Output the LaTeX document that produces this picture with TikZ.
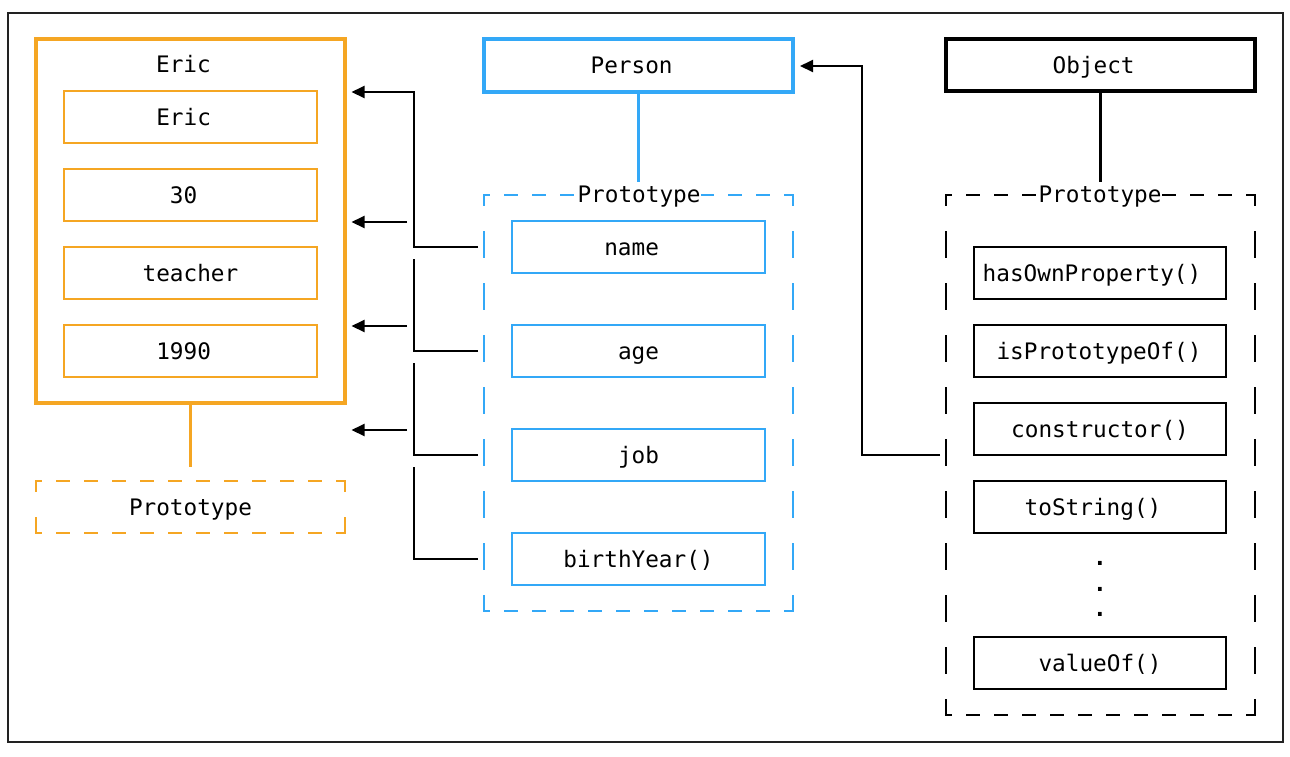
\documentclass[tikz,border=0pt]{standalone}
\usepackage{fontspec}
\setmonofont{DejaVu Sans Mono}
\usetikzlibrary{arrows.meta}
\definecolor{orng}{HTML}{F5A623}
\definecolor{blu}{HTML}{33A8F7}
\definecolor{frm}{HTML}{222222}
\newcommand\dashedframe[2]{%
  \draw[#2,hdsh] (#1.north west) -- (#1.north east);
  \draw[#2,hdsh] (#1.south west) -- (#1.south east);
  \draw[#2,vdsh] (#1.north west) -- (#1.south west);
  \draw[#2,vdsh] (#1.north east) -- (#1.south east);}
\begin{document}
\begin{tikzpicture}[x=1pt,y=-1pt,
  txt/.style={font=\fontsize{22.7}{26}\selectfont\ttfamily, text height=16.6pt, text depth=0pt, inner sep=0pt, outer sep=0pt},
  cell/.style={txt, rectangle, draw, minimum width=253pt, minimum height=52pt, line width=2pt},
  big/.style={txt, rectangle, draw, minimum width=309pt, line width=3.5pt},
  area/.style={txt, rectangle, minimum width=309pt},
  txs/.style={execute at begin node={\hspace*{#1}}},
  hdsh/.style={line width=2.5pt, line cap=rect, dash pattern=on 11pt off 17pt, dash phase=6.5pt},
  vdsh/.style={line width=2.5pt, line cap=rect, dash pattern=on 24.5pt off 27.5pt, dash phase=15pt},
  conn/.style={line width=2pt, draw=black},
  arr/.style={conn, -{Triangle[length=13pt,width=12pt]}}
]
\useasboundingbox (0,0) rectangle (1290,756);
\node[draw=frm, line width=2pt, minimum width=1275pt, minimum height=729pt, inner sep=0pt, outer sep=0pt] (frame) at (645.5,377.5) {};

% Eric
\node[big, draw=orng, minimum height=364pt] (eric) at (190.5,221) {};
\node[txt] (erict) at (183.5,64) {Eric};
\node[cell, draw=orng, txs=-13.7pt] (e1) at (190.5,117) {Eric};
\node[cell, draw=orng, txs=-14pt] (e2) at (190.5,195) {30};
\node[cell, draw=orng] (e3) at (190.5,273) {teacher};
\node[cell, draw=orng, txs=-13.7pt] (e4) at (190.5,351) {1990};
\node[area, minimum height=52pt] (eproto) at (190.5,507) {Prototype};
\dashedframe{eproto}{orng}
\draw[orng, line width=3.2pt] (eric.south) -- ([yshift=14pt]eproto.north);

% Person
\node[big, draw=blu, minimum height=53pt, txs=-13.7pt] (person) at (638.5,65.5) {Person};
\node[area, minimum height=416pt] (pproto) at (638.5,403) {};
\dashedframe{pproto}{blu}
\node[txt, fill=white] (pprotol) at (639,194) {Prototype};
\draw[blu, line width=3.2pt] (person.south) -- ([yshift=13pt]pproto.north);
\node[cell, draw=blu, txs=-13.7pt] (name) at (638.5,247) {name};
\node[cell, draw=blu] (age) at (638.5,351) {age};
\node[cell, draw=blu] (job) at (638.5,455) {job};
\node[cell, draw=blu] (birth) at (638.5,559) {birthYear()};

% Object
\node[big, draw=black, minimum height=52pt, txs=-13.7pt] (object) at (1100.5,65) {Object};
\node[area, minimum height=520pt] (oproto) at (1100.5,455) {};
\dashedframe{oproto}{black}
\node[txt, fill=white] (oprotol) at (1100,194) {Prototype};
\draw[black, line width=3.5pt] (object.south) -- ([yshift=13pt]oproto.north);
\node[cell, draw=black, minimum width=252pt, txs=-16pt] (hop) at (1100,273) {hasOwnProperty()};
\node[cell, draw=black, minimum width=252pt, txs=-2pt] (ipo) at (1100,351) {isPrototypeOf()};
\node[cell, draw=black, minimum width=252pt] (cons) at (1100,429) {constructor()};
\node[cell, draw=black, minimum width=252pt, txs=-14pt] (tos) at (1100,507) {toString()};
\node[txt, anchor=base, font=\fontsize{22.7}{26}\selectfont\ttfamily\bfseries] (d1) at (1100,565) {.};
\node[txt, anchor=base, font=\fontsize{22.7}{26}\selectfont\ttfamily\bfseries] (d2) at (1100,591) {.};
\node[txt, anchor=base, font=\fontsize{22.7}{26}\selectfont\ttfamily\bfseries] (d3) at (1100,616) {.};
\node[cell, draw=black, minimum width=252pt] (vof) at (1100,663) {valueOf()};

% connectors
\coordinate (k1) at (414,92);
\coordinate (k2) at (414,259);
\coordinate (k3) at (414,363);
\coordinate (k4) at (414,467);
\coordinate (a2) at (407,222);
\coordinate (a3) at (407,326);
\coordinate (a4) at (407,430);
\coordinate (kp) at (862,66);
\draw[arr] ([xshift=-34pt]name.west) -| (k1) -- ([xshift=6.5pt]eric.east |- k1);
\draw[conn] ([xshift=-34pt]age.west) -| (k2);
\draw[conn] ([xshift=-34pt]job.west) -| (k3);
\draw[conn] ([xshift=-34pt]birth.west) -| (k4);
\draw[arr] (a2) -- ([xshift=6.5pt]eric.east |- a2);
\draw[arr] (a3) -- ([xshift=6.5pt]eric.east |- a3);
\draw[arr] (a4) -- ([xshift=6.5pt]eric.east |- a4);
\draw[arr] ([xshift=-34pt]cons.south west) -| (kp) -- ([xshift=7pt]person.east |- kp);
\end{tikzpicture}
\end{document}
